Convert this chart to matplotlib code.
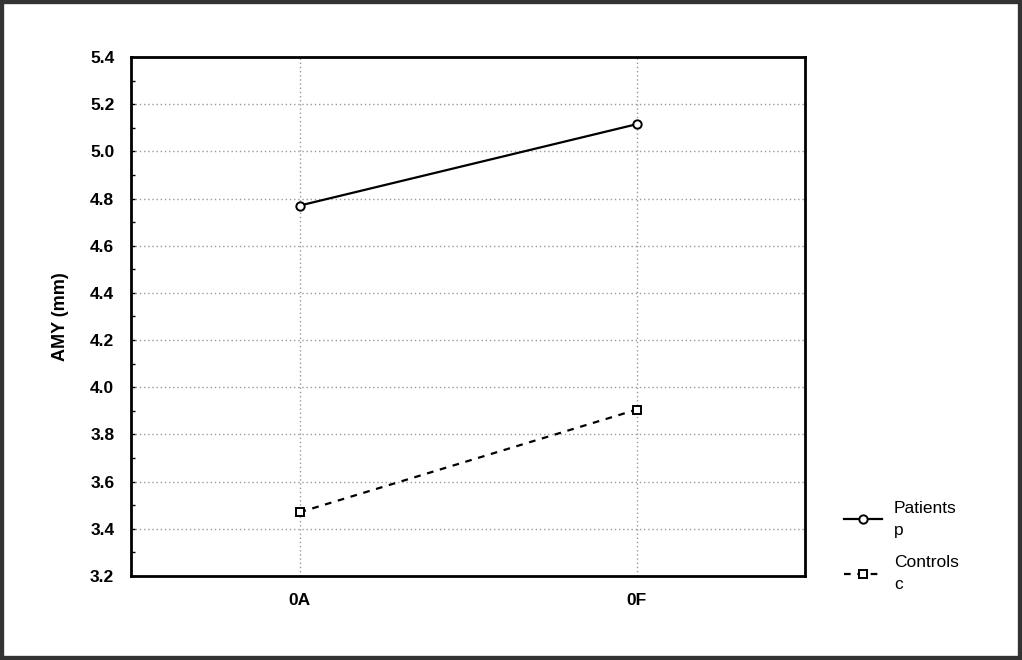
#!/usr/bin/env python3

# AMY measurements for patients and controls at 0A and 0F

import matplotlib
matplotlib.use('Agg')
import matplotlib.pyplot as plt
from matplotlib.patches import Rectangle
from matplotlib.ticker import MultipleLocator

matplotlib.rcParams['font.family'] = ['Liberation Sans', 'DejaVu Sans']

categories = ['0A', '0F']
patients = [4.77, 5.115]
controls = [3.47, 3.905]
series_labels = ['Patients\np', 'Controls\nc']
y_ticks = [3.2, 3.4, 3.6, 3.8, 4.0, 4.2, 4.4, 4.6, 4.8, 5.0, 5.2, 5.4]

fig = plt.figure(figsize=(10.22, 6.6), dpi=100)
ax = fig.add_axes([131/1022, 1 - 576/660, (805-131)/1022, (576-57)/660])

x = list(range(len(categories)))
ax.plot(x, patients, '-', color='black', lw=1.6, marker='o', ms=6,
        mfc='white', mec='black', mew=1.4, label=series_labels[0])
ax.plot(x, controls, '--', color='black', lw=1.6, dashes=(3, 3), marker='s',
        ms=6, mfc='white', mec='black', mew=1.4, label=series_labels[1])

ax.set_xlim(-0.5, 1.5)
ax.set_ylim(3.2, 5.4)
ax.set_xticks(x)
ax.set_xticklabels(categories, fontweight='bold', fontsize=12.5)
ax.set_yticks(y_ticks)
ax.set_yticklabels(['%.1f' % t for t in y_ticks], fontweight='bold', fontsize=12.5)
ax.yaxis.set_minor_locator(MultipleLocator(0.1))
ax.tick_params(axis='y', which='both', direction='in', length=3, width=1)
ax.tick_params(axis='x', length=0, pad=12)
ax.tick_params(axis='y', pad=12)
ax.grid(True, linestyle=(0, (1, 2)), color='#999999', lw=1)
ax.set_axisbelow(True)
for s in ax.spines.values():
    s.set_linewidth(2)

ax.set_ylabel('AMY (mm)', fontweight='bold', fontsize=13, labelpad=15)

leg = ax.legend(loc='upper left', bbox_to_anchor=(828/1022, 1 - 485/660),
                bbox_transform=fig.transFigure, frameon=False, fontsize=12.5,
                handlelength=2.2, labelspacing=1.0, handletextpad=0.7)
for t in leg.get_texts():
    t.set_linespacing(1.6)

# dark frame around the whole picture
fig.patches.append(Rectangle((0, 0), 1, 1, transform=fig.transFigure,
                             fill=False, edgecolor='#333333', lw=6))

fig.savefig('out.png', dpi=100)
